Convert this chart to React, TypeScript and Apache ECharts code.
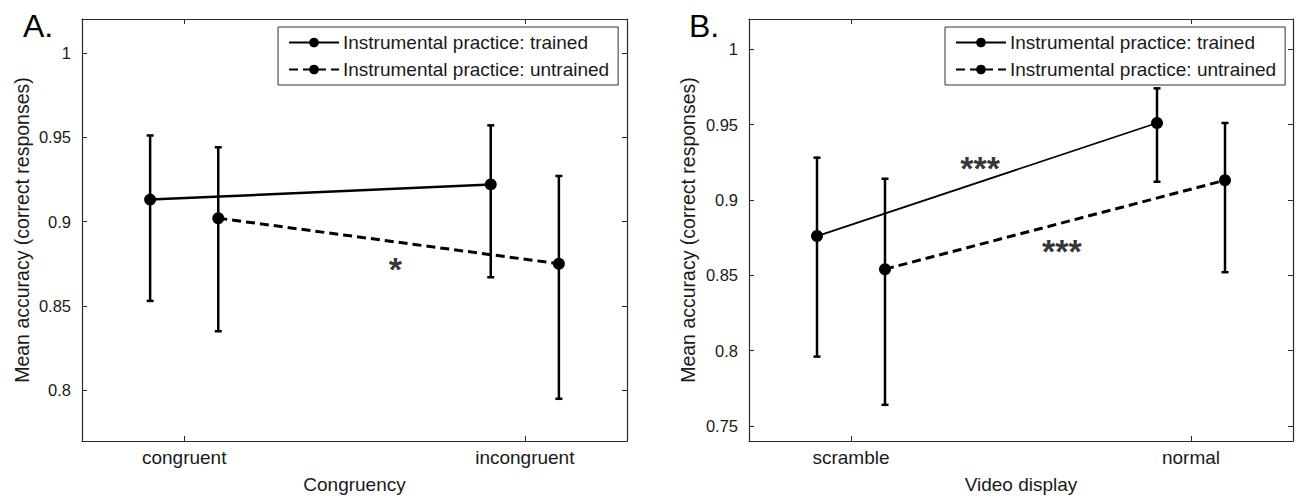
import React, { useEffect, useRef } from 'react';
import * as echarts from 'echarts';

// ---------- data ----------
const seriesNames = ['Instrumental practice: trained', 'Instrumental practice: untrained'];

const panelACategories = ['congruent', 'incongruent'];
const panelBCategories = ['scramble', 'normal'];

const aTrainedMean = [0.913, 0.922];
const aTrainedLow = [0.853, 0.867];
const aTrainedHigh = [0.951, 0.957];
const aUntrainedMean = [0.902, 0.875];
const aUntrainedLow = [0.835, 0.795];
const aUntrainedHigh = [0.944, 0.927];

const bTrainedMean = [0.876, 0.951];
const bTrainedLow = [0.796, 0.912];
const bTrainedHigh = [0.928, 0.974];
const bUntrainedMean = [0.854, 0.913];
const bUntrainedLow = [0.764, 0.852];
const bUntrainedHigh = [0.914, 0.951];

const yTicksA = [0.8, 0.85, 0.9, 0.95, 1];
const yTicksB = [0.75, 0.8, 0.85, 0.9, 0.95, 1];
const xTicks = [1, 2];

const annotationsA = [{ x: 1.62, y: 0.872, text: '*' }];
const annotationsB = [
  { x: 1.38, y: 0.921, text: '***' },
  { x: 1.62, y: 0.866, text: '***' },
];

const DODGE = 0.1;
const FONT = '"Liberation Sans", Arial, sans-serif';
const TXT = '#1a1a1a';
const AX = '#2a2a2a';

function pos(i: number, offset: number) {
  return xTicks[i] + offset;
}

function meanData(means: number[], offset: number) {
  return means.map((m, i) => [pos(i, offset), m]);
}
function errData(lo: number[], hi: number[], offset: number) {
  return lo.map((l, i) => [pos(i, offset), l, hi[i]]);
}

const errRender = (params: any, api: any) => {
  const x = api.value(0);
  const lo = api.value(1);
  const hi = api.value(2);
  const pLo = api.coord([x, lo]);
  const pHi = api.coord([x, hi]);
  const cap = 3.5;
  const style = { stroke: '#000', lineWidth: 2.5, fill: 'none' };
  return {
    type: 'group',
    children: [
      { type: 'line', shape: { x1: pLo[0], y1: pLo[1], x2: pHi[0], y2: pHi[1] }, style },
      { type: 'line', shape: { x1: pLo[0] - cap, y1: pLo[1], x2: pLo[0] + cap, y2: pLo[1] }, style },
      { type: 'line', shape: { x1: pHi[0] - cap, y1: pHi[1], x2: pHi[0] + cap, y2: pHi[1] }, style },
    ],
  };
};

function xAxes(gridIndex: number, cats: string[], name: string) {
  return [
    {
      type: 'value',
      gridIndex,
      position: 'bottom',
      min: 0.7,
      max: 2.3,
      name,
      nameLocation: 'middle',
      nameGap: 34,
      nameTextStyle: { fontFamily: FONT, fontSize: 19, color: TXT },
      axisLine: { show: true, lineStyle: { color: AX, width: 1.2 } },
      axisTick: { show: true, inside: true, length: 5, customValues: xTicks, lineStyle: { color: AX } },
      axisLabel: {
        show: true,
        customValues: xTicks,
        margin: 7,
        fontFamily: FONT,
        fontSize: 19,
        color: TXT,
        formatter: (v: number) => cats[Math.round(v) - 1] ?? '',
      },
      splitLine: { show: false },
    },
    {
      type: 'value',
      gridIndex,
      position: 'top',
      min: 0.7,
      max: 2.3,
      axisLine: { show: true, lineStyle: { color: AX, width: 1.2 } },
      axisTick: { show: true, inside: true, length: 5, customValues: xTicks, lineStyle: { color: AX } },
      axisLabel: { show: false },
      splitLine: { show: false },
    },
  ];
}

function yAxes(gridIndex: number, min: number, max: number, ticks: number[], nameGap: number) {
  return [
    {
      type: 'value',
      gridIndex,
      position: 'left',
      min,
      max,
      name: 'Mean accuracy (correct responses)',
      nameLocation: 'middle',
      nameGap,
      nameRotate: 90,
      nameTextStyle: { fontFamily: FONT, fontSize: 19.5, color: TXT },
      axisLine: { show: true, lineStyle: { color: AX, width: 1.2 } },
      axisTick: { show: true, inside: true, length: 5, customValues: ticks, lineStyle: { color: AX } },
      axisLabel: {
        show: true,
        customValues: ticks,
        margin: 11,
        fontFamily: FONT,
        fontSize: 16.5,
        color: TXT,
        formatter: (v: number) => String(+Number(v).toFixed(2)),
      },
      splitLine: { show: false },
    },
    {
      type: 'value',
      gridIndex,
      position: 'right',
      min,
      max,
      axisLine: { show: true, lineStyle: { color: AX, width: 1.2 } },
      axisTick: { show: true, inside: true, length: 5, customValues: ticks, lineStyle: { color: AX } },
      axisLabel: { show: false },
      splitLine: { show: false },
    },
  ];
}

function panelSeries(
  axisIndex: number,
  trainedMean: number[],
  trainedLow: number[],
  trainedHigh: number[],
  untrainedMean: number[],
  untrainedLow: number[],
  untrainedHigh: number[],
  solidWidth: number,
  annotations: { x: number; y: number; text: string }[]
) {
  return [
    {
      type: 'custom',
      xAxisIndex: axisIndex,
      yAxisIndex: axisIndex,
      renderItem: errRender,
      encode: { x: 0, y: [1, 2] },
      data: errData(trainedLow, trainedHigh, -DODGE),
      z: 2,
      silent: true,
    },
    {
      type: 'custom',
      xAxisIndex: axisIndex,
      yAxisIndex: axisIndex,
      renderItem: errRender,
      encode: { x: 0, y: [1, 2] },
      data: errData(untrainedLow, untrainedHigh, DODGE),
      z: 2,
      silent: true,
    },
    {
      type: 'line',
      name: seriesNames[0],
      xAxisIndex: axisIndex,
      yAxisIndex: axisIndex,
      data: meanData(trainedMean, -DODGE),
      symbol: 'circle',
      symbolSize: 12,
      itemStyle: { color: '#000' },
      lineStyle: { color: '#000', width: solidWidth, type: 'solid' },
      z: 3,
    },
    {
      type: 'line',
      name: seriesNames[1],
      xAxisIndex: axisIndex,
      yAxisIndex: axisIndex,
      data: meanData(untrainedMean, DODGE),
      symbol: 'circle',
      symbolSize: 12,
      itemStyle: { color: '#000' },
      lineStyle: { color: '#000', width: 3, type: [9, 5] },
      z: 3,
    },
    {
      type: 'scatter',
      xAxisIndex: axisIndex,
      yAxisIndex: axisIndex,
      symbolSize: 0,
      silent: true,
      data: annotations.map((a) => ({ value: [a.x, a.y], name: a.text })),
      label: {
        show: true,
        position: 'inside',
        formatter: (p: any) => p.name,
        fontFamily: FONT,
        fontSize: 34,
        fontWeight: 'bold',
        color: '#000',
      },
      z: 4,
    },
  ];
}

function legend(left: number) {
  return {
    data: seriesNames,
    left,
    top: 27,
    orient: 'vertical',
    backgroundColor: '#fff',
    borderColor: '#333',
    borderWidth: 1,
    borderRadius: 0,
    padding: [6, 9, 6, 10],
    itemWidth: 50,
    itemHeight: 12,
    itemGap: 8,
    selectedMode: false,
    textStyle: { fontFamily: FONT, fontSize: 19, color: TXT, padding: [0, 0, 0, -1] },
  };
}

export default function App() {
  const ref = useRef<HTMLDivElement>(null);

  useEffect(() => {
    if (!ref.current) return;
    const chart = echarts.init(ref.current, undefined, { renderer: 'svg' });
    const option: any = {
      animation: false,
      backgroundColor: '#fff',
      textStyle: { fontFamily: FONT },
      grid: [
        { left: 82, top: 19, width: 545, height: 428, containLabel: false },
        { left: 749, top: 19, width: 544, height: 429, containLabel: false },
      ],
      xAxis: [...xAxes(0, panelACategories, 'Congruency'), ...xAxes(1, panelBCategories, 'Video display')],
      yAxis: [...yAxes(0, 0.77, 1.02, yTicksA, 50), ...yAxes(1, 0.74, 1.02, yTicksB, 51)],
      legend: [legend(278), legend(945)],
      series: [
        ...panelSeries(0, aTrainedMean, aTrainedLow, aTrainedHigh, aUntrainedMean, aUntrainedLow, aUntrainedHigh, 2.5, annotationsA),
        ...panelSeries(2, bTrainedMean, bTrainedLow, bTrainedHigh, bUntrainedMean, bUntrainedLow, bUntrainedHigh, 1.8, annotationsB),
      ],
      graphic: [
        { type: 'text', left: 23, top: 10, style: { text: 'A.', fontFamily: FONT, fontSize: 32, fill: '#000' } },
        { type: 'text', left: 689, top: 10, style: { text: 'B.', fontFamily: FONT, fontSize: 32, fill: '#000' } },
      ],
    };
    chart.setOption(option);
    return () => chart.dispose();
  }, []);

  return (
    <div
      ref={ref}
      style={{ position: 'absolute', left: 0, top: 0, width: 1298, height: 499, background: '#fff' }}
    />
  );
}
